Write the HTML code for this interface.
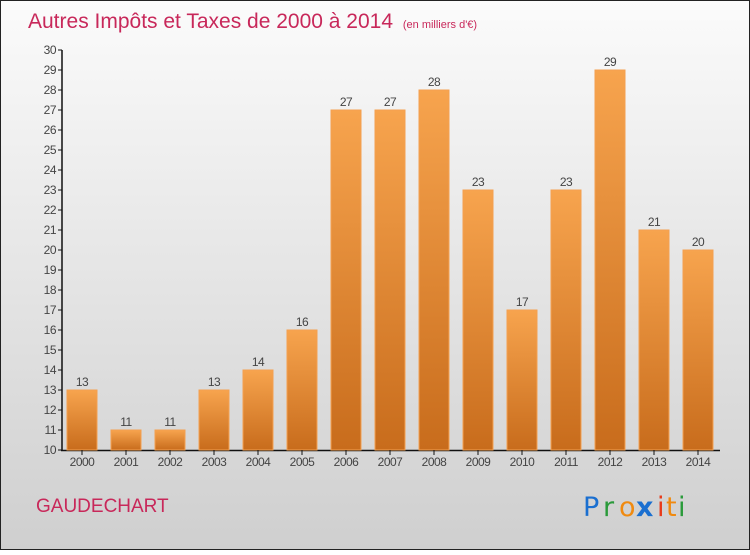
<!DOCTYPE html>
<html><head><meta charset="utf-8"><style>
html,body{margin:0;padding:0}
body{width:750px;height:550px;overflow:hidden;font-family:"Liberation Sans",sans-serif}
</style></head><body>
<svg width="750" height="550" xmlns="http://www.w3.org/2000/svg">
<defs>
<linearGradient id="bg" x1="0" y1="0" x2="0" y2="1"><stop offset="0" stop-color="#fbfbfb"/><stop offset="1" stop-color="#cfcfcf"/></linearGradient>
<linearGradient id="bar" x1="0" y1="0" x2="0" y2="1"><stop offset="0" stop-color="#f7a44e"/><stop offset="1" stop-color="#c86c1c"/></linearGradient>
</defs>
<rect x="0.5" y="0.5" width="749" height="549" fill="url(#bg)" stroke="#222"/>
<text x="28" y="28" font-size="21" fill="#c8285a">Autres Impôts et Taxes de 2000 à 2014 <tspan font-size="11" dx="4">(en milliers d'€)</tspan></text>
<g id="yaxis"></g>
<g id="bars"></g>
<text x="36" y="512" font-size="19" fill="#c8285a">GAUDECHART</text>
<g font-size="27" font-family="'DejaVu Sans',sans-serif">
<text x="583" y="516" fill="#1a6fd0">P</text><text x="603" y="516" fill="#2a9a3a">r</text><text x="619" y="516" fill="#f08a10">o</text><text x="636" y="516" fill="#1a6fd0" font-weight="bold">x</text><text x="657" y="516" fill="#e83a1a">i</text><text x="666" y="516" fill="#f08a10">t</text><text x="678" y="516" fill="#2a9a3a">i</text>
</g>
</svg>
<script>
const years=["2000","2001","2002","2003","2004","2005","2006","2007","2008","2009","2010","2011","2012","2013","2014"];
const values=[13,11,11,13,14,16,27,27,28,23,17,23,29,21,20];
const yTicks=[10,11,12,13,14,15,16,17,18,19,20,21,22,23,24,25,26,27,28,29,30];
const NS="http://www.w3.org/2000/svg";
const y=v=>450-(v-10)*20;
const x=i=>82+i*44;
function mk(t,a,p){const e=document.createElementNS(NS,t);for(const k in a)e.setAttribute(k,a[k]);p.appendChild(e);return e;}
const ya=document.getElementById('yaxis'),bs=document.getElementById('bars');
let l=mk('line',{x1:62,y1:50,x2:62,y2:451,stroke:'#111','stroke-width':1.5},ya);


l=mk('line',{x1:61,y1:450.5,x2:720,y2:450.5,stroke:'#111','stroke-width':1.5},ya);


yTicks.forEach(v=>{
 const t=mk('line',{x1:58,y1:y(v),x2:62,y2:y(v),stroke:'#111'},ya);
 
 
 const tx=mk('text',{x:56,y:y(v)+4,'font-size':12,'text-anchor':'end',fill:'#444','letter-spacing':'-0.5'},ya);
 tx.textContent=v;
 
 
});
years.forEach((yr,i)=>{
 const r=mk('rect',{x:x(i)-15,y:y(values[i]),width:30,height:450-y(values[i]),fill:'url(#bar)',stroke:'#f4a050','stroke-width':1},bs);
 
 
 const v=mk('text',{x:x(i),y:y(values[i])-4,'font-size':12,'text-anchor':'middle',fill:'#444','letter-spacing':'-0.5'},bs);
 v.textContent=values[i];
 
 
 const k=mk('line',{x1:x(i),y1:450,x2:x(i),y2:455,stroke:'#111'},bs);
 
 
 const xl=mk('text',{x:x(i),y:466,'font-size':12,'text-anchor':'middle',fill:'#444','letter-spacing':'-0.5'},bs);
 xl.textContent=yr;
 
 
});
</script>
</body></html>
